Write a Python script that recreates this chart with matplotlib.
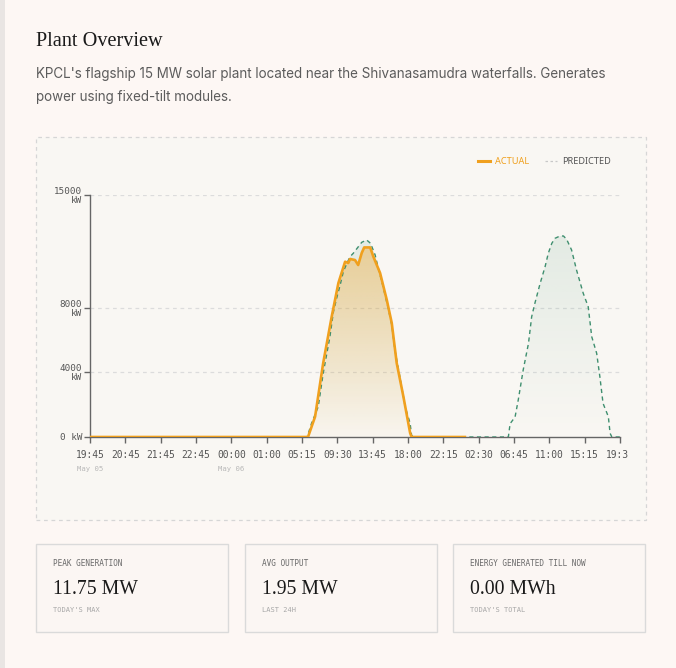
import numpy as np
import matplotlib
matplotlib.use("Agg")
import matplotlib.pyplot as plt
from matplotlib.patches import Rectangle
from matplotlib.lines import Line2D
from matplotlib.colors import to_rgb
from matplotlib.transforms import Bbox, TransformedBbox

# ---------------- data ----------------
tick_labels = ["19:45", "20:45", "21:45", "22:45", "00:00", "01:00", "05:15", "09:30",
               "13:45", "18:00", "22:15", "02:30", "06:45", "11:00", "15:15", "19:30"]
date_labels = {0: "May 05", 4: "May 06"}
y_ticks = [0, 4000, 8000, 15000]
y_tick_labels = ["0 kW", "4000\nkW", "8000\nkW", "15000\nkW"]

# x in tick-slot units (one slot per labelled tick)
actual_t = [0, 6.17, 6.37, 6.60, 6.84, 7.03, 7.22, 7.31, 7.36, 7.50, 7.59, 7.69, 7.76,
            7.93, 8.02, 8.21, 8.40, 8.54, 8.68, 8.87, 9.06, 9.10, 10.61]
actual_kw = [0, 0, 1258, 4587, 7457, 9545, 10866, 10785, 11033, 10971, 10661, 11405, 11750,
             11750, 11178, 10165, 8492, 7066, 4587, 2500, 250, 0, 0]

pred_t = [0, 6.14, 6.18, 6.27, 6.46, 6.60, 6.79, 6.89, 6.98, 7.08, 7.17, 7.27, 7.36, 7.45,
          7.69, 7.83, 7.94, 8.07, 8.16, 8.26, 8.35, 8.44, 8.54, 8.63, 8.77, 8.92, 9.06, 9.10,
          9.14, 11.84, 11.89, 12.03, 12.12, 12.26, 12.41, 12.50, 12.59, 12.74, 12.88, 12.97,
          13.07, 13.16, 13.30, 13.40, 13.49, 13.63, 13.77, 13.96, 14.10, 14.20, 14.34, 14.43,
          14.52, 14.67, 14.72, 14.77, 15.0]
pred_kw = [0, 0, 229, 849, 1878, 3948, 6217, 7766, 8597, 9421, 10248, 10764, 11178, 11384,
           12066, 12211, 12004, 11281, 10455, 9626, 8802, 7977, 6942, 5393, 3738, 1878, 849, 124,
           0, 0, 827, 1240, 2293, 4153, 5806, 7457, 8283, 9525, 10558, 11384,
           12004, 12314, 12459, 12459, 12252, 11591, 10351, 8905, 8078, 6219, 5186, 3740,
           2087, 1260, 227, 0, 0]

title = "Plant Overview"
subtitle = ["KPCL's flagship 15 MW solar plant located near the Shivanasamudra waterfalls. Generates",
            "power using fixed-tilt modules."]
cards = [("PEAK GENERATION", "11.75 MW", "TODAY'S MAX"),
         ("AVG OUTPUT", "1.95 MW", "LAST 24H"),
         ("ENERGY GENERATED TILL NOW", "0.00 MWh", "TODAY'S TOTAL")]

# ---------------- style ----------------
W, H = 676, 668
PAGE_BG = "#fdf7f4"
PANEL_BG = "#f9f7f3"
ORANGE = "#f0a01e"
GREEN = "#3f8f6f"
MONO = "DejaVu Sans Mono"

fig = plt.figure(figsize=(W / 100, H / 100), dpi=100)
fig.patch.set_facecolor(PAGE_BG)


def fx(x):
    return x / W


def fy(y):
    return 1 - y / H


def rect(x0, y0, x1, y1, **kw):
    r = Rectangle((fx(x0), fy(y1)), fx(x1) - fx(x0), fy(y0) - fy(y1),
                  transform=fig.transFigure, **kw)
    fig.patches.append(r)
    return r


# left edge strip
rect(0, 0, 5, H, facecolor="#e9e5e3", edgecolor="none", zorder=0)

# title & subtitle
fig.text(fx(36), fy(41), title, family="Liberation Serif", fontsize=14.6,
         color="#1a1a1a", va="center", ha="left")
for i, line in enumerate(subtitle):
    fig.text(fx(36), fy(74 + 23 * i), line, family="Inter", fontsize=9.7,
             color="#5c5c5c", va="center", ha="left")

# chart panel
rect(36, 137, 646, 520, facecolor=PANEL_BG, edgecolor="#d6d6d6", lw=0.9,
     linestyle=(0, (3, 3)), zorder=0)

# legend
fig.lines.append(Line2D([fx(478), fx(490)], [fy(161), fy(161)], color=ORANGE, lw=2.2,
                        transform=fig.transFigure, zorder=3))
fig.text(fx(495), fy(161), "ACTUAL", family="Noto Sans", fontsize=6.6, color=ORANGE,
         va="center", ha="left")
fig.lines.append(Line2D([fx(545), fx(557)], [fy(161), fy(161)], color="#c8c8c8", lw=0.9,
                        linestyle=(0, (2, 2)), transform=fig.transFigure, zorder=3))
fig.text(fx(562), fy(161), "PREDICTED", family="Noto Sans", fontsize=6.6, color="#555555",
         va="center", ha="left")

# axes
ax = fig.add_axes([fx(90), fy(437), fx(620) - fx(90), fy(195) - fy(437)])
ax.set_zorder(5)
ax.set_facecolor("none")
ax.set_xlim(0, len(tick_labels) - 1)
ax.set_ylim(0, 15000)


def grad_fill(t, v, color, a_top, a_bot, z):
    coll = ax.fill_between(t, v, 0, facecolor="none", edgecolor="none")
    path = coll.get_paths()[0]
    n = 256
    img = np.zeros((n, 1, 4))
    img[..., :3] = to_rgb(color)
    img[:, 0, 3] = np.linspace(a_bot, a_top, n)
    im = ax.imshow(img, extent=[min(t), max(t), 0, max(v)], origin="lower",
                   aspect="auto", zorder=z, interpolation="bilinear")
    im.set_clip_path(path, transform=ax.transData)


grad_fill(pred_t, pred_kw, GREEN, 0.12, 0.0, 1)
grad_fill(actual_t, actual_kw, ORANGE, 0.38, 0.02, 2)
ax.plot(pred_t, pred_kw, color=GREEN, lw=1.0, linestyle=(0, (3, 2.5)), zorder=3)
ax.plot(actual_t, actual_kw, color=ORANGE, lw=1.9, zorder=4, solid_joinstyle="round")
ax.set_xlim(0, len(tick_labels) - 1)
ax.set_ylim(0, 15000)

for s in ("top", "right"):
    ax.spines[s].set_visible(False)
for s in ("left", "bottom"):
    ax.spines[s].set_color("#666666")
    ax.spines[s].set_linewidth(1.0)

ax.set_xticks(range(len(tick_labels)))
ax.set_xticklabels(tick_labels, family=MONO, fontsize=6.9, color="#555555")
ax.set_yticks(y_ticks)
ax.set_yticklabels(y_tick_labels, family=MONO, fontsize=6.7, color="#555555",
                   linespacing=0.95)
for lab in ax.get_yticklabels():
    lab.set_multialignment("right")
ax.tick_params(axis="both", length=4, width=1, color="#666666")
ax.tick_params(axis="x", pad=5.5)
ax.tick_params(axis="y", pad=1.5)

ax.yaxis.grid(True, color="#dcdcdc", lw=0.9, linestyle=(0, (3, 3)))
ax.set_axisbelow(True)
for gl, v in zip(ax.yaxis.get_gridlines(), y_ticks):
    if v == 0:
        gl.set_visible(False)

# clip last x tick label like the reference
clip = TransformedBbox(Bbox([[0, 0], [fx(628), 1]]), fig.transFigure)
for lab in ax.get_xticklabels():
    lab.set_clip_box(clip)
    lab.set_clip_on(True)

for i, d in date_labels.items():
    ax.annotate(d, xy=(i, 0), xycoords=("data", "axes fraction"),
                xytext=(0, -31.5), textcoords="offset pixels", ha="center", va="center",
                family=MONO, fontsize=5.2, color="#b8b8b8", annotation_clip=False)

# cards
card_x = [(36, 228), (245, 437), (453, 645)]
for (x0, x1), (lab, val, sub) in zip(card_x, cards):
    rect(x0, 544, x1, 632, facecolor="#fbf6f3", edgecolor="#dadada", lw=1.0, zorder=0)
    fig.text(fx(x0 + 17), fy(564), lab, family=MONO, fontsize=5.6, color="#6a6a6a",
             va="center", ha="left")
    fig.text(fx(x0 + 17), fy(590), val, family="Liberation Serif", fontsize=14.2,
             color="#1a1a1a", va="center", ha="left")
    fig.text(fx(x0 + 17), fy(610), sub, family=MONO, fontsize=5.0, color="#a8a8a8",
             va="center", ha="left")

fig.savefig("out.png", dpi=100, facecolor=PAGE_BG)
